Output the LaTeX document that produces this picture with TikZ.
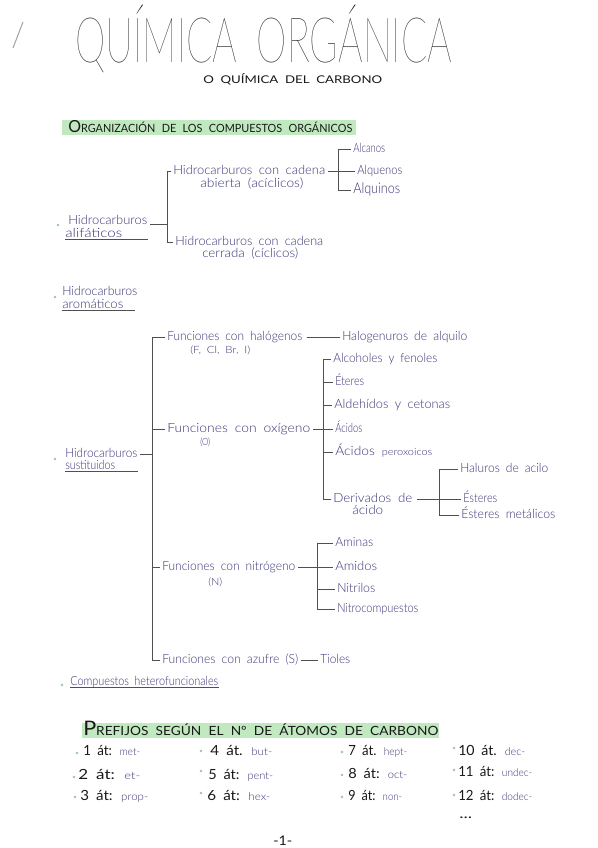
\documentclass[tikz,border=0pt]{standalone}
\usepackage{fontspec}
\usepackage{graphicx}
\IfFontExistsTF{Lato Light}{\newfontfamily\lt{Lato Light}}{\newfontfamily\lt{Lato}}
\newfontfamily\lr{Lato}
\IfFontExistsTF{Lato Thin}{\newfontfamily\ttl{Lato Thin}}{%
  \IfFontExistsTF{Lato Hairline}{\newfontfamily\ttl{Lato Hairline}}{\let\ttl\lt}}
\newlength\pxu \setlength\pxu{0.75pt}
\newcommand\fw[2]{\resizebox{#1\pxu}{\height}{\spaceskip=.5em\relax #2}}
\newcommand\pf[2]{{\color{blk}\lr\fontsize{10.5pt}{12pt}\selectfont #1} {\color{ink}\lt\fontsize{8pt}{10pt}\selectfont #2}}
\definecolor{ink}{RGB}{58,54,120}
\definecolor{blk}{RGB}{25,25,25}
\definecolor{linec}{RGB}{80,80,80}
\definecolor{hl}{RGB}{192,233,192}
\definecolor{dotc}{RGB}{150,205,150}
\tikzset{
  txt/.style={inner sep=0pt, anchor=west, text=ink, font=\lt\fontsize{9.5pt}{11pt}\selectfont, text height=6.5pt, text depth=1.8pt},
  sml/.style={txt, font=\lt\fontsize{7.5pt}{9pt}\selectfont},
  head/.style={inner sep=0pt, anchor=base west, text=blk, font=\lr},
  pre/.style={inner sep=0pt, anchor=west, font=\lt, text height=7.5pt, text depth=2pt},
  ln/.style={draw=linec, line width=0.55pt},
  dot/.style={circle, fill=dotc, inner sep=0pt, minimum size=2.2pt},
  band/.style={fill=hl, draw=none}
}
\begin{document}
\begin{tikzpicture}[x=0.75pt,y=-0.75pt]
\useasboundingbox (0,0) rectangle (597,848);
\fill[white] (0,0) rectangle (597,848);

% title
\draw[draw=gray!70, line width=0.8pt] (23,22) -- (13,48);
\node[head, font=\ttl\fontsize{47pt}{50pt}\selectfont] (title) at (75,63) {\fw{377}{QUÍMICA ORGÁNICA}};
\node[head, font=\lr\fontsize{8pt}{10pt}\selectfont] (sub) at (203,84) {\fw{179}{O QUÍMICA DEL CARBONO}};

% heading 1
\fill[band] (62,120) rectangle (356,135);
\node[head] (org) at (68,133) {\fw{284}{{\fontsize{12.5pt}{14pt}\selectfont O}{\fontsize{8.5pt}{10pt}\selectfont RGANIZACIÓN DE LOS COMPUESTOS ORGÁNICOS}}};

% alifaticos
\node[dot] (b1) at (58,225) {};
\node[txt] (ha1) at (68,221) {\fw{79}{Hidrocarburos}};
\node[txt] (ha2) at (65,234) {\fw{57}{alifáticos}};
\draw[ln] ([yshift=-2pt]ha2.base west) -- ++(83,0);
\node[txt] (ab1) at (173,171) {\fw{152}{Hidrocarburos con cadena}};
\node[txt] (ab2) at (200,184) {\fw{103}{abierta (acíclicos)}};
\node[txt] (ce1) at (175,242) {\fw{148}{Hidrocarburos con cadena}};
\node[txt] (ce2) at (202,254) {\fw{96}{cerrada (cíclicos)}};
\coordinate (ax) at (167,0);
\draw[ln] ([xshift=-1.5pt]ab1.west) -- (ab1.west -| ax) -- (ce1.west -| ax) -- ([xshift=-1.5pt]ce1.west);
\draw[ln] ([xshift=2pt]ha1.base east) -- (ha1.base east -| ax);

\node[txt] (alca) at (353,149) {\fw{32}{Alcanos}};
\node[txt] (alqe) at (357,171) {\fw{45}{Alquenos}};
\node[txt] (alqi) at (353,190) {\fw{47}{\fontsize{11pt}{13pt}\selectfont Alquinos}};
\coordinate (bx) at (338,0);
\draw[ln] ([xshift=-1.5pt]alca.west) -- (alca.west -| bx) -- (alqi.west -| bx) -- ([xshift=-1.5pt]alqi.west);
\draw[ln] ([xshift=2pt]ab1.east) -- ([xshift=-1.5pt]alqe.west);

% aromaticos
\node[dot] (b2) at (55,297) {};
\node[txt] (ar1) at (62,292) {\fw{75}{Hidrocarburos}};
\node[txt] (ar2) at (62,305) {\fw{61}{aromáticos}};
\draw[ln] ([yshift=-2pt]ar2.base west) -- ++(73,0);

% sustituidos
\node[dot] (b3) at (55,459) {};
\node[txt] (su1) at (65,454) {\fw{72}{Hidrocarburos}};
\node[txt] (su2) at (65,466) {\fw{50}{sustituidos}};
\draw[ln] ([yshift=-2pt]su2.base west) -- ++(73,0);

\node[txt] (hal) at (167,337) {\fw{135}{Funciones con halógenos}};
\node[sml] (hal2) at (190,350) {\fw{60}{(F, Cl, Br, I)}};
\node[txt] (oxi) at (167,429) {\fw{143}{Funciones con oxígeno}};
\node[sml] (oxi2) at (200,442) {\fw{10}{(O)}};
\node[txt] (nit) at (162,567) {\fw{133}{Funciones con nitrógeno}};
\node[sml] (nit2) at (208,582) {\fw{14}{(N)}};
\node[txt] (azu) at (162,660) {\fw{136}{Funciones con azufre (S)}};
\coordinate (cx) at (152,0);
\draw[ln] ([xshift=-1.5pt]hal.west) -- (hal.west -| cx) -- (azu.west -| cx) -- ([xshift=-1.5pt]azu.west);
\draw[ln] (oxi.west -| cx) -- ([xshift=-1.5pt]oxi.west);
\draw[ln] (nit.west -| cx) -- ([xshift=-1.5pt]nit.west);
\draw[ln] ([xshift=2pt]su1.east) -- (su1.east -| cx);

\node[txt] (halog) at (342,337) {\fw{125}{Halogenuros de alquilo}};
\draw[ln] ([xshift=3pt]hal.east) -- ([xshift=-1.5pt]halog.west);

% oxigeno
\node[txt] (alc) at (333,359) {\fw{104}{Alcoholes y fenoles}};
\node[txt] (ete) at (335,382) {\fw{29}{Éteres}};
\node[txt] (ald) at (334,405) {\fw{116}{Aldehídos y cetonas}};
\node[txt] (aci) at (335,429) {\fw{27}{Ácidos}};
\node[txt] (per) at (335,452) {\fw{97}{Ácidos {\fontsize{7.5pt}{9pt}\selectfont peroxoicos}}};
\node[txt] (der) at (333,499) {\fw{79}{Derivados de}};
\node[txt] (der2) at (352,511) {\fw{31}{ácido}};
\coordinate (dx) at (323,0);
\draw[ln] ([xshift=-1.5pt]alc.west) -- (alc.west -| dx) -- (der.west -| dx) -- ([xshift=-1.5pt]der.west);
\draw[ln] (ete.west -| dx) -- ([xshift=-1.5pt]ete.west);
\draw[ln] (ald.west -| dx) -- ([xshift=-1.5pt]ald.west);
\draw[ln] (per.west -| dx) -- ([xshift=-1.5pt]per.west);
\draw[ln] ([xshift=2pt]oxi.east) -- ([xshift=-1.5pt]aci.west);

% derivados
\node[txt] (hac) at (460,469) {\fw{88}{Haluros de acilo}};
\node[txt] (est) at (463,499) {\fw{34}{Ésteres}};
\node[txt] (estm) at (461,515) {\fw{94}{Ésteres metálicos}};
\coordinate (ex) at (439,0);
\draw[ln] ([xshift=-1.5pt]hac.west) -- (hac.west -| ex) -- (estm.west -| ex) -- ([xshift=-1.5pt]estm.west);
\draw[ln] ([xshift=3pt]der.east) -- ([xshift=-1.5pt]est.west);

% nitrogeno
\node[txt] (ami) at (335,543) {\fw{38}{Aminas}};
\node[txt] (amd) at (335,567) {\fw{42}{Amidos}};
\node[txt] (ntr) at (337,589) {\fw{38}{Nitrilos}};
\node[txt] (ntc) at (337,609) {\fw{81}{Nitrocompuestos}};
\coordinate (fx) at (317,0);
\draw[ln] ([xshift=-1.5pt]ami.west) -- (ami.west -| fx) -- (ntc.west -| fx) -- ([xshift=-1.5pt]ntc.west);
\draw[ln] (ntr.west -| fx) -- ([xshift=-1.5pt]ntr.west);
\draw[ln] ([xshift=2pt]nit.east) -- ([xshift=-1.5pt]amd.west);

% azufre
\node[txt] (tio) at (320,660) {\fw{30}{Tioles}};
\draw[ln] ([xshift=1.5pt]azu.east) -- ([xshift=-1.5pt]tio.west);

% heterofuncionales
\node[dot] (b4) at (62,685) {};
\node[txt] (het) at (70,682) {\fw{148}{Compuestos heterofuncionales}};
\draw[ln] ([yshift=-1.5pt]het.base west) -- ([yshift=-1.5pt]het.base east);

% prefijos
\fill[band] (82,723) rectangle (439,738);
\node[head] (pre) at (83,735) {\fw{355}{{\fontsize{15pt}{17pt}\selectfont P}{\fontsize{9.5pt}{11pt}\selectfont REFIJOS SEGÚN EL Nº DE ÁTOMOS DE CARBONO}}};

\node[dot] at (77,753) {};
\node[dot] at (74,777) {};
\node[dot] at (75,797) {};
\node[dot] at (201,751) {};
\node[dot] at (201,771) {};
\node[dot] at (201,793) {};
\node[dot] at (342,752) {};
\node[dot] at (342,775) {};
\node[dot] at (342,797) {};
\node[dot] at (454,748) {};
\node[dot] at (454,770) {};
\node[dot] at (454,795) {};

\node[pre] (p1) at (83,752) {\fw{57}{\pf{1 át:}{met-}}};
\node[pre] (p2) at (78,776) {\fw{62}{\pf{2 át:}{et-}}};
\node[pre] (p3) at (80,797) {\fw{68}{\pf{3 át:}{prop-}}};
\node[pre] (p4) at (210,752) {\fw{62}{\pf{4 át.}{but-}}};
\node[pre] (p5) at (208,776) {\fw{65}{\pf{5 át:}{pent-}}};
\node[pre] (p6) at (207,797) {\fw{63}{\pf{6 át:}{hex-}}};
\node[pre] (p7) at (348,752) {\fw{59}{\pf{7 át.}{hept-}}};
\node[pre] (p8) at (348,775) {\fw{59}{\pf{8 át:}{oct-}}};
\node[pre] (p9) at (348,797) {\fw{54}{\pf{9 át:}{non-}}};
\node[pre] (p10) at (458,752) {\fw{67}{\pf{10 át.}{dec-}}};
\node[pre] (p11) at (458,773) {\fw{74}{\pf{11 át:}{undec-}}};
\node[pre] (p12) at (458,797) {\fw{74}{\pf{12 át:}{dodec-}}};
\node[pre, text=blk] (dots) at (459,815) {\fw{13}{\lr\fontsize{10pt}{12pt}\selectfont ...}};

\node[pre, text=blk] (page) at (273,842) {\fw{19}{\lr\fontsize{10pt}{12pt}\selectfont -1-}};
\end{tikzpicture}
\end{document}
